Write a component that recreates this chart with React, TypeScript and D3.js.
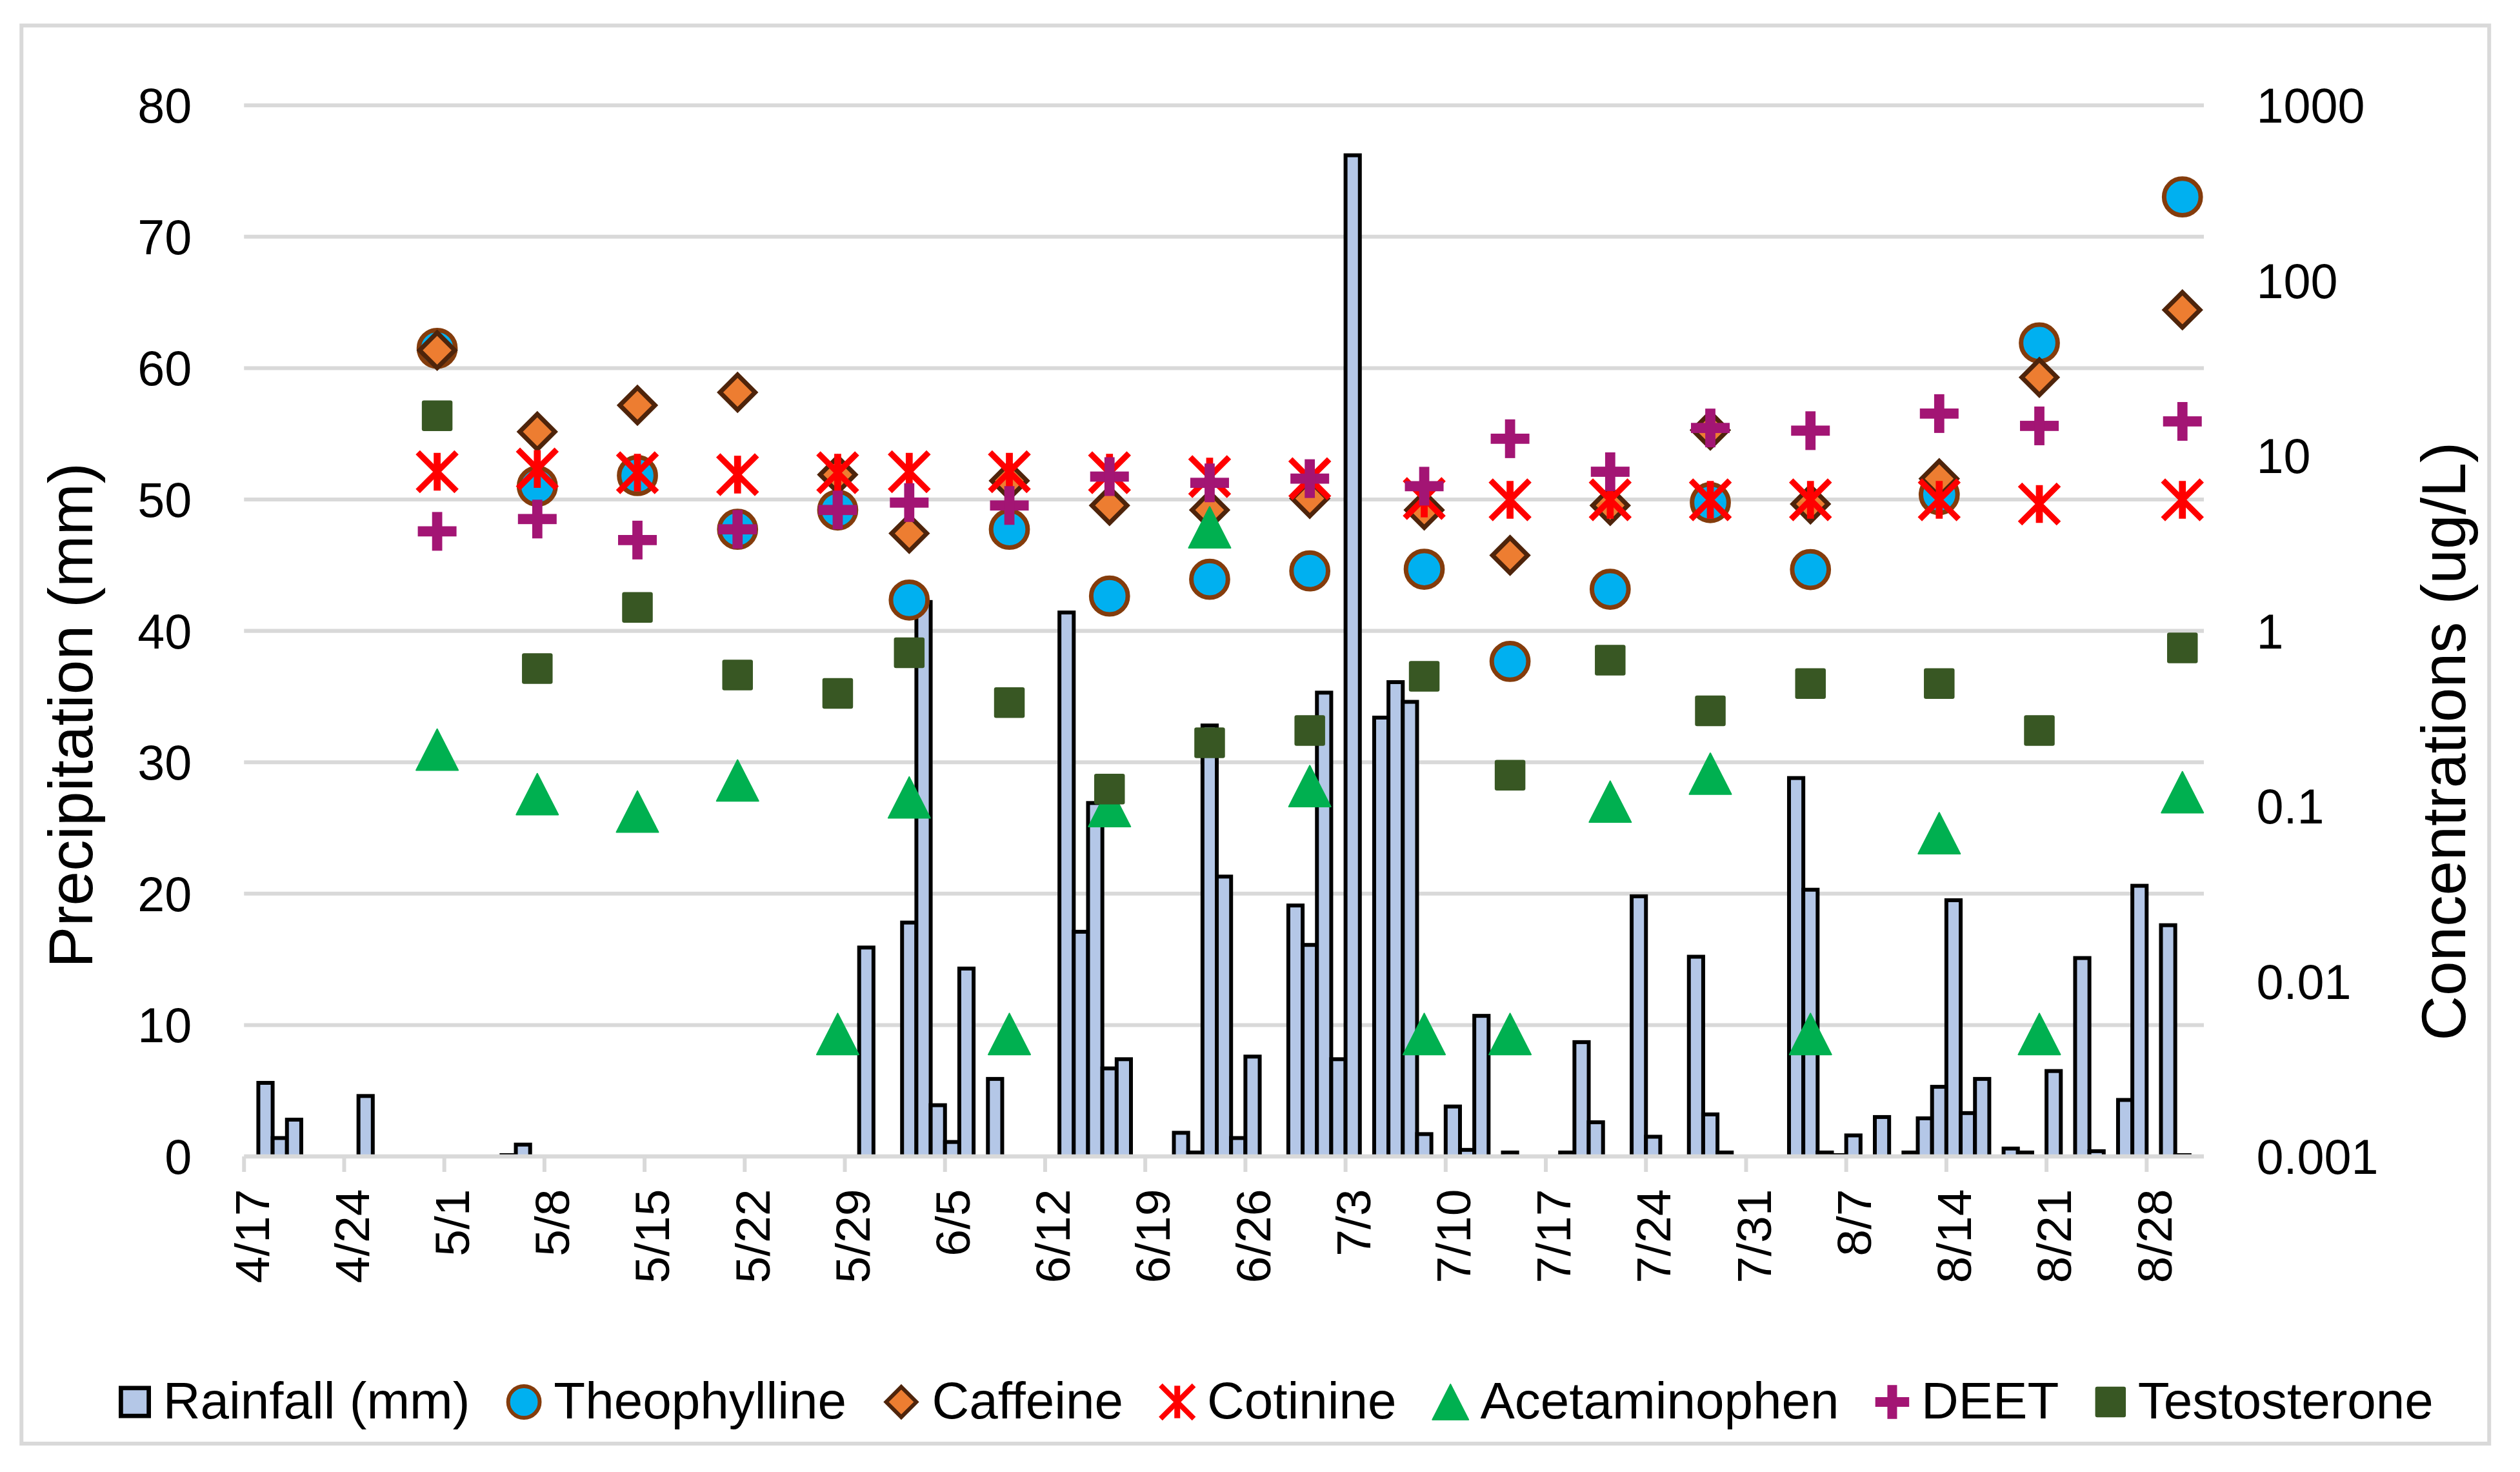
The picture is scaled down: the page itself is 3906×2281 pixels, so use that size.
import React, { useMemo } from "react";
import * as d3 from "d3";

// ---------------- DATA ----------------
const YEAR = 2023;
const axisStart = "4/17";
const axisEnd = "9/1"; // end of the date axis (last day slot is 8/31)

const rainDates = [
  "4/18", "4/19", "4/20", "4/25", "5/5", "5/6", "5/30", "6/2", "6/3", "6/4", "6/5", "6/6", "6/8",
  "6/13", "6/14", "6/15", "6/16", "6/17", "6/21", "6/22", "6/23", "6/24", "6/25", "6/26", "6/29",
  "6/30", "7/1", "7/2", "7/3", "7/5", "7/6", "7/7", "7/8", "7/10", "7/11", "7/12", "7/14", "7/18",
  "7/19", "7/20", "7/23", "7/24", "7/27", "7/28", "7/29", "8/3", "8/4", "8/5", "8/6", "8/7", "8/9",
  "8/11", "8/12", "8/13", "8/14", "8/15", "8/16", "8/18", "8/19", "8/21", "8/23", "8/24", "8/26",
  "8/27", "8/29", "8/30",
];
const rainMm = [
  5.6, 1.4, 2.8, 4.6, 0.1, 0.9, 15.9, 17.8, 42.2, 3.9, 1.1, 14.3, 5.9,
  41.4, 17.1, 26.9, 6.7, 7.4, 1.8, 0.3, 32.8, 21.3, 1.4, 7.6, 19.1,
  16.1, 35.3, 7.4, 76.2, 33.4, 36.1, 34.6, 1.7, 3.8, 0.5, 10.7, 0.3, 0.3,
  8.7, 2.6, 19.8, 1.5, 15.2, 3.2, 0.3, 28.8, 20.3, 0.3, 0.1, 1.6, 3.0,
  0.3, 2.9, 5.3, 19.5, 3.3, 5.9, 0.6, 0.3, 6.5, 15.1, 0.4, 4.3,
  20.6, 17.6, 0.1,
];

const sampleDates = [
  "4/30", "5/7", "5/14", "5/21", "5/28", "6/2", "6/9", "6/16", "6/23",
  "6/30", "7/8", "7/14", "7/21", "7/28", "8/4", "8/13", "8/20", "8/30",
];
const theophylline = [41, 6.7, 7.7, 3.8, 4.9, 1.5, 3.8, 1.58, 1.97, 2.2, 2.25, 0.67, 1.73, 5.4, 2.24, 6.0, 44, 300];
const caffeine = [40, 13.7, 19.4, 23, 7.8, 3.6, 7.2, 5.2, 4.9, 5.7, 4.9, 2.7, 5.2, 14, 5.3, 7.4, 28, 68];
const cotinine = [8.1, 8.4, 8.0, 7.8, 8.0, 8.1, 8.1, 8.0, 7.6, 7.4, 5.7, 5.6, 5.6, 5.6, 5.6, 5.6, 5.3, 5.6];
const acetaminophen = [0.21, 0.117, 0.093, 0.14, 0.005, 0.112, 0.005, 0.1, 3.9, 0.13, 0.005, 0.005, 0.106, 0.153, 0.005, 0.07, 0.005, 0.12];
const deet = [3.7, 4.35, 3.3, 3.8, 4.9, 5.4, 5.2, 7.6, 7.0, 7.4, 6.7, 12.5, 8.1, 14.4, 13.9, 17.4, 14.8, 15.7];
const testosterone = [16.9, 0.61, 1.36, 0.56, 0.44, 0.75, 0.39, 0.125, 0.23, 0.27, 0.55, 0.15, 0.68, 0.35, 0.5, 0.5, 0.27, 0.8];

const xTickLabels = [
  "4/17", "4/24", "5/1", "5/8", "5/15", "5/22", "5/29", "6/5", "6/12", "6/19",
  "6/26", "7/3", "7/10", "7/17", "7/24", "7/31", "8/7", "8/14", "8/21", "8/28",
];
const leftTicks = [0, 10, 20, 30, 40, 50, 60, 70, 80];
const rightTicks = [0.001, 0.01, 0.1, 1, 10, 100, 1000];
const rightTickLabels = ["0.001", "0.01", "0.1", "1", "10", "100", "1000"];

const leftTitle = "Precipitation (mm)";
const rightTitle = "Concentrations (ug/L)";
const rainLabel = "Rainfall (mm)";

// ---------------- STYLE ----------------
type Kind = "circle" | "diamond" | "star" | "triangle" | "plus" | "square";
const seriesList: { name: string; values: number[]; kind: Kind }[] = [
  { name: "Theophylline", values: theophylline, kind: "circle" },
  { name: "Caffeine", values: caffeine, kind: "diamond" },
  { name: "Cotinine", values: cotinine, kind: "star" },
  { name: "Acetaminophen", values: acetaminophen, kind: "triangle" },
  { name: "DEET", values: deet, kind: "plus" },
  { name: "Testosterone", values: testosterone, kind: "square" },
];

const W = 1562.4;
const H = 912.4;
const FONT = "'Liberation Sans', Arial, Helvetica, sans-serif";
const GRID = "#D9D9D9";
const BAR_FILL = "#B4C7E7";

const C_CIRCLE = "#00B0F0";
const C_CIRCLE_STROKE = "#843C0C";
const C_DIAMOND = "#ED7D31";
const C_DIAMOND_STROKE = "#4E240B";
const C_STAR = "#FF0000";
const C_TRI = "#00B050";
const C_PLUS = "#A31574";
const C_SQUARE = "#385723";

function Marker({ kind, legend }: { kind: Kind; legend?: boolean }) {
  const k = legend ? 0.86 : 1;
  const sw = legend ? 2.4 : 2.8;
  switch (kind) {
    case "circle":
      return <circle r={11.35 * k} fill={C_CIRCLE} stroke={C_CIRCLE_STROKE} strokeWidth={sw} />;
    case "diamond": {
      const h = 10.9 * k;
      return (
        <path
          d={`M0,${-h}L${h},0L0,${h}L${-h},0Z`}
          fill={C_DIAMOND}
          stroke={C_DIAMOND_STROKE}
          strokeWidth={sw}
          strokeLinejoin="miter"
        />
      );
    }
    case "star": {
      const h = 12 * k;
      const v = 11.7 * k;
      return (
        <g fill="none" stroke={C_STAR} strokeLinecap="butt">
          <path d={`M${-h},${-h}L${h},${h}M${h},${-h}L${-h},${h}`} strokeWidth={legend ? 3.2 : 3.7} />
          <path d={`M0,${-v}L0,${v}`} strokeWidth={legend ? 3.6 : 4.3} />
        </g>
      );
    }
    case "triangle": {
      const hw = 13 * k;
      const hh = 12.75 * k;
      return (
        <path
          d={`M0,${-hh}L${hw},${hh}L${-hw},${hh}Z`}
          fill={C_TRI}
          stroke={C_TRI}
          strokeWidth={0.8}
          strokeLinejoin="round"
        />
      );
    }
    case "plus": {
      const L = legend ? 21 : 24;
      const t = legend ? 6 : 6.3;
      return (
        <g fill={C_PLUS}>
          <rect x={-L / 2} y={-t / 2} width={L} height={t} />
          <rect x={-t / 2} y={-L / 2} width={t} height={L} />
        </g>
      );
    }
    case "square": {
      const s = 19;
      return <rect x={-s / 2} y={-s / 2} width={s} height={s} rx={1.3} fill={C_SQUARE} />;
    }
  }
  return null;
}

const parseDate = d3.timeParse("%m/%d/%Y");
const toDate = (s: string) => parseDate(`${s}/${YEAR}`) as Date;
const dayIndex = (s: string) => d3.timeDay.count(toDate(axisStart), toDate(s));

export default function App() {
  const x = d3.scaleLinear().domain([0, dayIndex(axisEnd)]).range([151.3, 1366.4]);
  const yL = d3.scaleLinear().domain([0, 80]).range([716.8, 65.3]);
  const yR = d3.scaleLog().domain([0.001, 1000]).range([716.8, 65.3]);
  const y0 = yL(0);

  const legend = useMemo(() => {
    const canvas = document.createElement("canvas");
    const ctx = canvas.getContext("2d");
    const fs = 32;
    if (ctx) ctx.font = `${fs}px 'Liberation Sans', Arial, sans-serif`;
    const measure = (s: string) => (ctx ? ctx.measureText(s).width : s.length * fs * 0.55);
    const boxW: Record<string, number> = {
      bar: 20, circle: 22, diamond: 23, star: 22, triangle: 22, plus: 21, square: 19,
    };
    const items = [{ name: rainLabel, kind: "bar" as const }, ...seriesList.map((s) => ({ name: s.name, kind: s.kind }))];
    let cursor = 73.6;
    return items.map((it) => {
      const bw = boxW[it.kind];
      const cx = cursor + bw / 2;
      const tx = cursor + bw + 7.5;
      cursor = tx + measure(it.name) + 22.5;
      return { ...it, cx, tx };
    });
  }, []);

  const legendY = 869;

  return (
    <svg
      width={3906}
      height={2281}
      viewBox={`0 0 ${W} ${H}`}
      style={{ position: "absolute", left: 0, top: 0, display: "block" }}
      fontFamily={FONT}
    >
      <rect x={0} y={0} width={W} height={H} fill="#FFFFFF" />
      {/* chart area border */}
      <rect x={13.3} y={15.8} width={1530} height={879} fill="none" stroke={GRID} strokeWidth={2.4} />

      {/* gridlines */}
      {leftTicks.slice(1).map((t) => (
        <line key={`g${t}`} x1={x.range()[0]} x2={x.range()[1]} y1={yL(t)} y2={yL(t)} stroke={GRID} strokeWidth={2.4} />
      ))}

      {/* rainfall bars */}
      <g>
        {rainDates.map((d, i) => {
          const idx = dayIndex(d);
          const x1 = x(idx);
          const x2 = x(idx + 1);
          const yt = yL(rainMm[i]);
          return (
            <rect
              key={`b${d}`}
              x={x1}
              y={yt}
              width={x2 - x1}
              height={Math.max(0, y0 - yt)}
              fill={BAR_FILL}
              stroke="#000"
              strokeWidth={2.4}
            />
          );
        })}
      </g>

      {/* x axis line + ticks */}
      <line x1={x.range()[0]} x2={x.range()[1]} y1={y0} y2={y0} stroke={GRID} strokeWidth={2.6} />
      {xTickLabels.map((lab) => {
        const xx = x(dayIndex(lab));
        return <line key={`t${lab}`} x1={xx} x2={xx} y1={y0} y2={y0 + 9.6} stroke={GRID} strokeWidth={2.4} />;
      })}

      {/* scatter series */}
      {seriesList.map((s) => (
        <g key={s.name}>
          {s.values.map((v, i) => {
            const cx = x(dayIndex(sampleDates[i]) + 0.5);
            const cy = yR(v);
            return (
              <g key={i} transform={`translate(${cx},${cy})`}>
                <Marker kind={s.kind} />
              </g>
            );
          })}
        </g>
      ))}

      {/* left tick labels */}
      {leftTicks.map((t) => (
        <text key={`l${t}`} x={118.9} y={yL(t)} dy="0.358em" textAnchor="end" fontSize={30.2} fill="#000">
          {t}
        </text>
      ))}
      {/* right tick labels */}
      {rightTicks.map((t, i) => (
        <text key={`r${t}`} x={1399} y={yR(t)} dy="0.358em" textAnchor="start" fontSize={30.2} fill="#000">
          {rightTickLabels[i]}
        </text>
      ))}
      {/* x tick labels */}
      {xTickLabels.map((lab) => {
        const xx = x(dayIndex(lab));
        return (
          <text
            key={`xl${lab}`}
            transform={`translate(${xx},737) rotate(-90)`}
            dy="0.51em"
            textAnchor="end"
            fontSize={30}
            fill="#000"
          >
            {lab}
          </text>
        );
      })}

      {/* axis titles */}
      <text transform="translate(57,443.4) rotate(-90)" textAnchor="middle" fontSize={38.6} fill="#000">
        {leftTitle}
      </text>
      <text transform="translate(1528.6,459.5) rotate(-90)" textAnchor="middle" fontSize={38.6} fill="#000">
        {rightTitle}
      </text>

      {/* legend */}
      {legend.map((it) => (
        <g key={`lg${it.name}`}>
          <g transform={`translate(${it.cx},${legendY})`}>
            {it.kind === "bar" ? (
              <rect x={-8.65} y={-8.65} width={17.3} height={17.3} fill={BAR_FILL} stroke="#000" strokeWidth={2.7} />
            ) : (
              <Marker kind={it.kind as Kind} legend />
            )}
          </g>
          <text x={it.tx} y={879} fontSize={32} fill="#000">
            {it.name}
          </text>
        </g>
      ))}
    </svg>
  );
}
